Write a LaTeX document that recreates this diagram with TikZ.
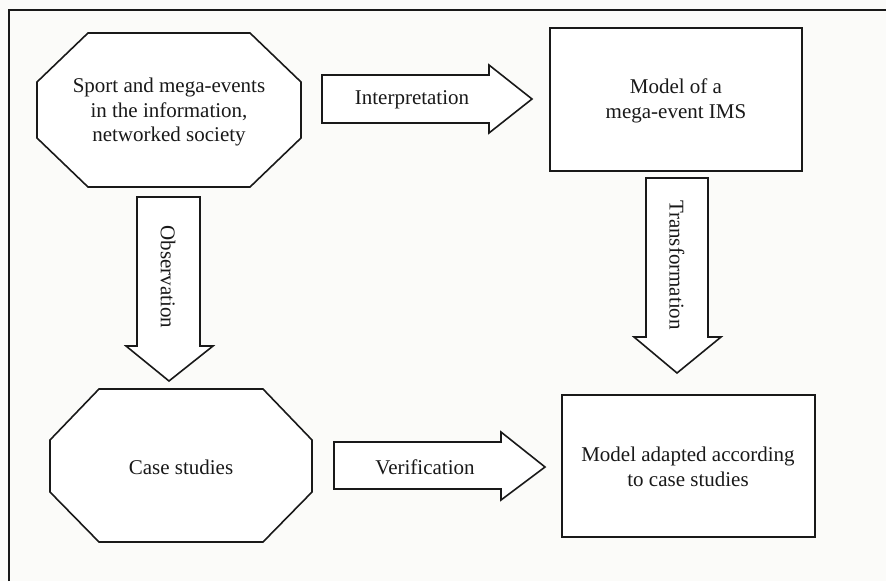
\documentclass[tikz,border=0pt]{standalone}
\usepackage{fontspec}
\setmainfont{Liberation Serif}
\definecolor{paper}{RGB}{251,251,249}
\definecolor{ink}{RGB}{25,25,25}
\begin{document}
\begin{tikzpicture}[x=1pt,y=-1pt,
  outline/.style={draw=ink, line width=1.6pt, line join=miter, fill=white},
  label/.style={font=\fontsize{21}{24.5}\selectfont, text=ink, align=center, inner sep=0pt},
  vlabel/.style={label, rotate=-90}]
  % page and frame
  \fill[paper] (0,0) rectangle (886,581);
  \useasboundingbox (0,0) rectangle (886,581);
  \coordinate (fb) at (9,581);
  \coordinate (fc) at (9,10);
  \coordinate (fr) at (886,10);
  \draw[ink, line width=1.8pt] (fb) -- (fc) -- (fr);

  % top-left octagon
  \draw[outline] (88,33) -- (250,33) -- (301,82) -- (301,138) -- (250,187)
    -- (88,187) -- (37,138) -- (37,82) -- cycle;
  \node[label] (society) at (169,112) {Sport and mega-events\\in the information,\\networked society};

  % top-right box
  \node[draw=ink, line width=1.6pt, fill=white, minimum width=252pt,
        minimum height=143pt, inner sep=0pt] (model) at (676,99.5) {};
  \node[label] (modeltext) at (676,101) {Model of a\\mega-event IMS};

  % bottom-left octagon
  \draw[outline] (99,389) -- (263,389) -- (312,440) -- (312,492) -- (263,542)
    -- (99,542) -- (50,492) -- (50,440) -- cycle;
  \node[label] (cases) at (181,467) {Case studies};

  % bottom-right box
  \node[draw=ink, line width=1.6pt, fill=white, minimum width=253pt,
        minimum height=142pt, inner sep=0pt] (adapted) at (688.5,466) {};
  \node[label] (adaptedtext) at (688,467) {Model adapted according\\to case studies};

  % block arrow: interpretation
  \draw[outline] (322,75) -- (489,75) -- (489,65) -- (532,99) -- (489,133)
    -- (489,123) -- (322,123) -- cycle;
  \node[label] (interp) at (412,100) {Interpretation};

  % block arrow: verification
  \draw[outline] (334,442) -- (501,442) -- (501,432) -- (545,467) -- (501,500)
    -- (501,489) -- (334,489) -- cycle;
  \node[label] (verif) at (425,467) {Verification};

  % block arrow: observation
  \draw[outline] (137,197) -- (200,197) -- (200,346) -- (213,346) -- (169,381)
    -- (126,346) -- (137,346) -- cycle;
  \node[vlabel] (obs) at (168,277) {Observation};

  % block arrow: transformation
  \draw[outline] (646,178) -- (708,178) -- (708,337) -- (721,337) -- (677,373)
    -- (634,337) -- (646,337) -- cycle;
  \node[vlabel] (trans) at (677,265) {Transformation};
\end{tikzpicture}
\end{document}
